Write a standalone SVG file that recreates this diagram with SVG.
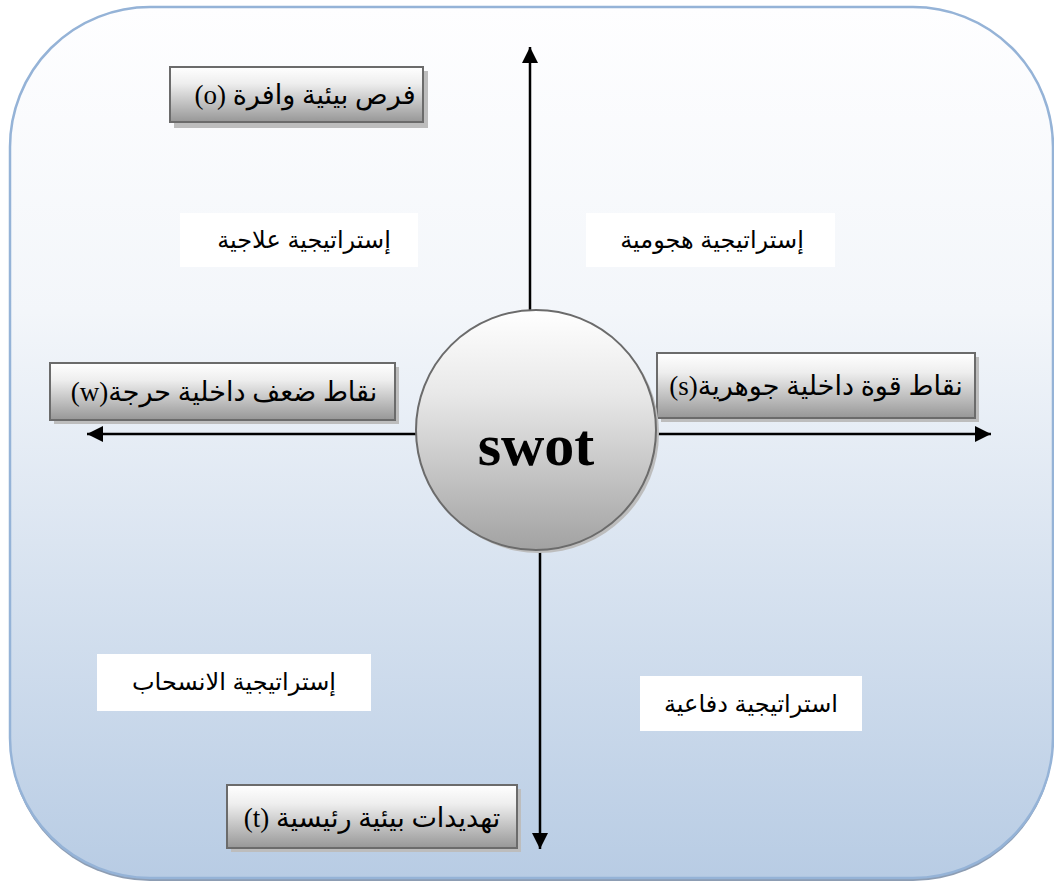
<svg xmlns="http://www.w3.org/2000/svg" width="1054" height="885" viewBox="0 0 1054 885">
  <style>
    .box { stroke: #6b6b6b; stroke-width: 2; fill: url(#boxGrad); }
    .shadow { fill: #bdbdbd; }
    .btxt { font-family: "Liberation Serif", "DejaVu Sans", serif; font-size: 27px; fill: #000; }
    .lbl { fill: #ffffff; }
    .ltxt { font-family: "Liberation Sans", "DejaVu Sans", sans-serif; font-size: 24px; fill: #000; }
    .axis { stroke: #000; stroke-width: 2.5; fill: none; marker-end: url(#arrow); }
    .swot { font-family: "Liberation Serif", "Times New Roman", serif; font-weight: bold; font-size: 60px; fill: #000; }
  </style>
  <defs>
    <linearGradient id="bgGrad" x1="0" y1="0" x2="0" y2="1">
      <stop offset="0" stop-color="#fefeff"/>
      <stop offset="0.35" stop-color="#f3f6fa"/>
      <stop offset="1" stop-color="#b8cce4"/>
    </linearGradient>
    <linearGradient id="boxGrad" x1="0" y1="0" x2="0" y2="1">
      <stop offset="0" stop-color="#ffffff"/>
      <stop offset="0.3" stop-color="#eeeeee"/>
      <stop offset="1" stop-color="#979797"/>
    </linearGradient>
    <linearGradient id="circGrad" x1="0" y1="0" x2="0" y2="1">
      <stop offset="0" stop-color="#ffffff"/>
      <stop offset="0.35" stop-color="#e8e8e8"/>
      <stop offset="1" stop-color="#a2a2a2"/>
    </linearGradient>
    <marker id="arrow" viewBox="0 0 10 10" refX="10" refY="5" markerWidth="6.5" markerHeight="6.5" markerUnits="strokeWidth" orient="auto">
      <path d="M0,0 L10,5 L0,10 Z" fill="#000"/>
    </marker>
  </defs>

  <g id="background">
    <rect x="10" y="10" width="1043" height="871" rx="140" ry="140" fill="#8d9db3"/>
    <rect x="10" y="7" width="1043" height="871" rx="140" ry="140" fill="url(#bgGrad)" stroke="#95b3d7" stroke-width="2.5"/>
  </g>

  <g id="connectors">
    <line class="axis" x1="530" y1="312" x2="530" y2="47"/>
    <line class="axis" x1="540" y1="548" x2="540" y2="849"/>
    <line class="axis" x1="416" y1="434" x2="87" y2="434"/>
    <line class="axis" x1="656" y1="434" x2="991" y2="434"/>
  </g>

  <g id="node-o">
    <rect class="shadow" x="174" y="71" width="254" height="57"/>
    <rect class="box" x="170" y="67" width="253" height="55"/>
    <text class="btxt" x="305" y="104" text-anchor="middle" direction="rtl">فرص بيئية وافرة (o)</text>
  </g>

  <g id="node-w">
    <rect class="shadow" x="54" y="367" width="345" height="57"/>
    <rect class="box" x="50" y="363" width="345" height="57"/>
    <text class="btxt" x="224" y="401" text-anchor="middle" direction="rtl">نقاط ضعف داخلية حرجة(w)</text>
  </g>

  <g id="node-s">
    <rect class="shadow" x="661" y="357" width="318" height="65"/>
    <rect class="box" x="657" y="353" width="318" height="65"/>
    <text class="btxt" x="816" y="395" text-anchor="middle" direction="rtl">نقاط قوة داخلية جوهرية(s)</text>
  </g>

  <g id="node-t">
    <rect class="shadow" x="231" y="789" width="290" height="63"/>
    <rect class="box" x="227" y="785" width="290" height="63"/>
    <text class="btxt" x="372" y="827" text-anchor="middle" direction="rtl">تهديدات بيئية رئيسية (t)</text>
  </g>

  <g id="node-swot">
    <circle cx="539" cy="433" r="120" fill="#bdbdbd"/>
    <circle cx="536" cy="430" r="120" fill="url(#circGrad)" stroke="#6b6b6b" stroke-width="2"/>
    <text class="swot" x="536" y="465" text-anchor="middle">swot</text>
  </g>

  <g id="label-remedial">
    <rect class="lbl" x="180" y="213" width="238" height="54"/>
    <text class="ltxt" x="304" y="248" text-anchor="middle" direction="rtl">إستراتيجية علاجية</text>
  </g>

  <g id="label-offensive">
    <rect class="lbl" x="586" y="213" width="249" height="54"/>
    <text class="ltxt" x="712" y="248" text-anchor="middle" direction="rtl">إستراتيجية هجومية</text>
  </g>

  <g id="label-withdrawal">
    <rect class="lbl" x="97" y="654" width="274" height="57"/>
    <text class="ltxt" x="234" y="690" text-anchor="middle" direction="rtl">إستراتيجية  الانسحاب</text>
  </g>

  <g id="label-defensive">
    <rect class="lbl" x="640" y="676" width="222" height="55"/>
    <text class="ltxt" x="751" y="712" text-anchor="middle" direction="rtl">استراتيجية دفاعية</text>
  </g>
</svg>
